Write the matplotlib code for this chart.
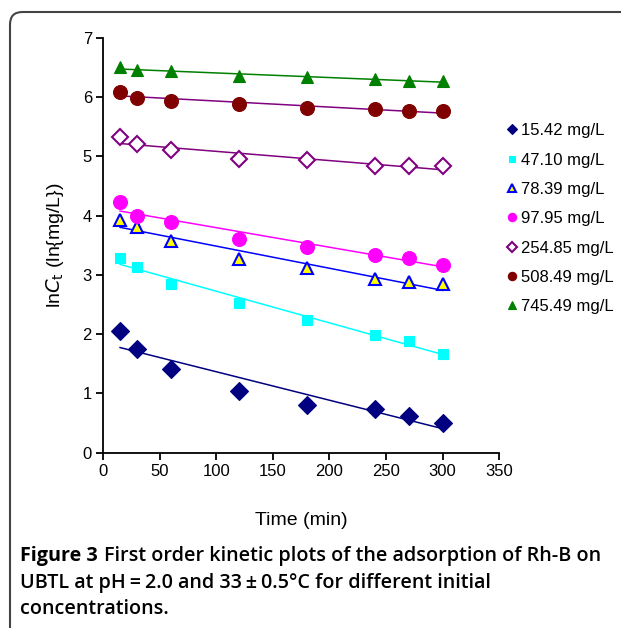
# First order kinetic plots, lnCt vs time
import numpy as np
import matplotlib
matplotlib.use('Agg')
import matplotlib.pyplot as plt
from matplotlib.patches import FancyBboxPatch

plt.rcParams['font.family'] = ['Liberation Sans', 'DejaVu Sans']

# Data
time_min = [15, 30, 60, 120, 180, 240, 270, 300]
labels = ['15.42 mg/L', '47.10 mg/L', '78.39 mg/L', '97.95 mg/L',
          '254.85 mg/L', '508.49 mg/L', '745.49 mg/L']
c_1542 = [2.05, 1.75, 1.41, 1.05, 0.81, 0.74, 0.62, 0.51]
c_4710 = [3.29, 3.14, 2.84, 2.53, 2.24, 1.99, 1.88, 1.67]
c_7839 = [3.92, 3.81, 3.57, 3.27, 3.11, 2.93, 2.88, 2.84]
c_9795 = [4.23, 3.99, 3.90, 3.61, 3.47, 3.34, 3.29, 3.17]
c_25485 = [5.32, 5.20, 5.10, 4.96, 4.93, 4.84, 4.83, 4.84]
c_50849 = [6.09, 5.99, 5.94, 5.88, 5.82, 5.79, 5.76, 5.76]
c_74549 = [6.51, 6.45, 6.43, 6.36, 6.33, 6.30, 6.27, 6.27]
xticks = [0, 50, 100, 150, 200, 250, 300, 350]
yticks = [0, 1, 2, 3, 4, 5, 6, 7]

series = [c_1542, c_4710, c_7839, c_9795, c_25485, c_50849, c_74549]
# marker, size, face, edge, trend line colour
styles = [
    ('D', 9, '#000080', '#000080', '#000080'),
    ('s', 7.5, '#00FFFF', '#00FFFF', '#00FFFF'),
    ('^', 8.5, '#FFFF00', '#0000FF', '#0000FF'),
    ('o', 10, '#FF00FF', '#FF00FF', '#FF00FF'),
    ('D', 8.5, 'white', '#800080', '#800080'),
    ('o', 10, '#800000', '#800000', '#800080'),
    ('^', 9, '#008000', '#008000', '#008000'),
]

fig = plt.figure(figsize=(6.21, 6.28), dpi=100)
ax = fig.add_axes([0.166, 0.279, 0.638, 0.661])

t = np.array(time_min)
for vals, lab, (m, ms, fc, ec, lc) in zip(series, labels, styles):
    k, b = np.polyfit(t, vals, 1)
    ax.plot([t[0], t[-1]], [k * t[0] + b, k * t[-1] + b], color=lc, lw=1.1, zorder=2)
    ax.plot(t, vals, ls='none', marker=m, ms=ms, mfc=fc, mec=ec,
            mew=1.5 if fc in ('white', '#FFFF00') else 0.8, label=lab, zorder=3)

ax.set_xlim(0, 350)
ax.set_ylim(0, 7)
ax.set_xticks(xticks)
ax.set_yticks(yticks)
ax.tick_params(labelsize=12, direction='out', length=5, width=1.3, pad=3)
for s in ['top', 'right']:
    ax.spines[s].set_visible(False)
for s in ['left', 'bottom']:
    ax.spines[s].set_linewidth(1.3)

ax.set_xlabel('Time (min)', fontsize=14, labelpad=24)
ax.set_ylabel(r'ln$\it{C}$$_{\rm t}$ (ln{mg/L})', fontsize=14, labelpad=12)

leg = ax.legend(loc='upper left', bbox_to_anchor=(0.995, 0.81), frameon=False,
                fontsize=12, handletextpad=0.05, labelspacing=0.86,
                markerscale=0.6, borderaxespad=0.0, handlelength=1.0)

# caption, bold lead then the rest placed right after it
cap_x = 20 / 621
cap_y = [1 - 561 / 628, 1 - 588 / 628, 1 - 614 / 628]
cap_fs = 14.2
lead = fig.text(cap_x, cap_y[0], 'Figure 3', fontsize=cap_fs, fontweight='bold',
                family='Open Sans', va='baseline')
fig.canvas.draw()
bb = lead.get_window_extent().transformed(fig.transFigure.inverted())
fig.text(bb.x1 + 6 / 621, cap_y[0], 'First order kinetic plots of the adsorption of Rh-B on',
         fontsize=cap_fs, fontweight='semibold', family='Open Sans', va='baseline')
fig.text(cap_x, cap_y[1], 'UBTL at pH\u2009=\u20092.0 and 33\u2009\u00b1\u20090.5\u00b0C for different initial',
         fontsize=cap_fs, fontweight='semibold', family=['Open Sans', 'DejaVu Sans'],
         va='baseline')
fig.text(cap_x, cap_y[2], 'concentrations.', fontsize=cap_fs, fontweight='semibold',
         family='Open Sans', va='baseline')

# rounded frame that runs off the right and bottom edge
box = FancyBboxPatch((10 / 621, -0.1), 1.2, 1.1 - 12 / 628,
                     boxstyle='round,pad=0,rounding_size=0.02',
                     transform=fig.transFigure, fill=False, ec='#444444', lw=1.5)
fig.patches.append(box)

fig.savefig('out.png', dpi=100)
